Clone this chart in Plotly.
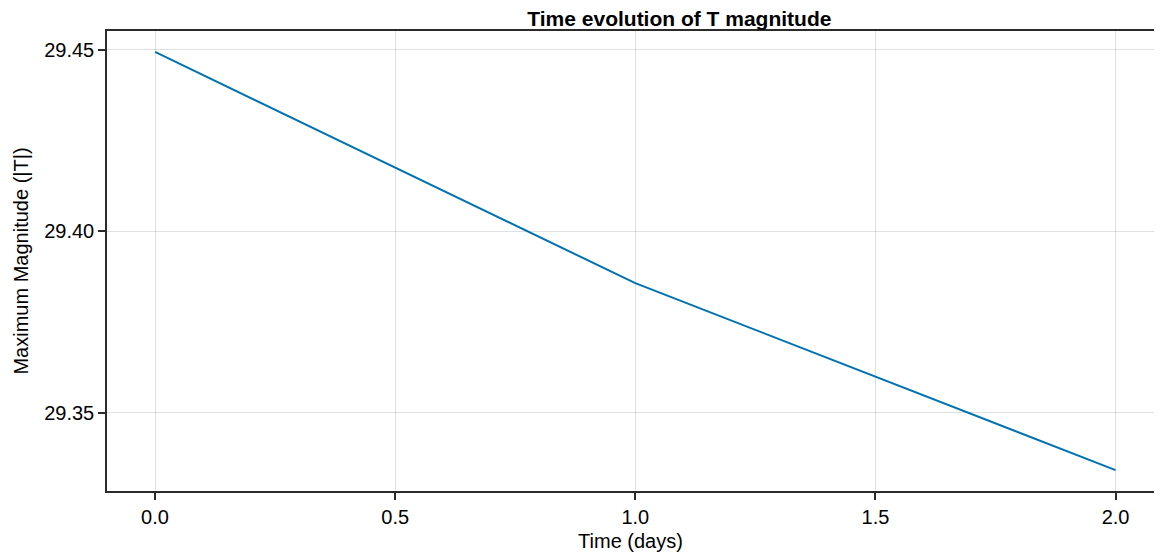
import plotly.graph_objects as go

# time in days and maximum |T| magnitude
time_days = [0.0, 1.0, 2.0]
max_magnitude = [29.4494, 29.3857, 29.3342]

x_ticks = [0.0, 0.5, 1.0, 1.5, 2.0]
x_tick_text = ["0.0", "0.5", "1.0", "1.5", "2.0"]
y_ticks = [29.35, 29.40, 29.45]
y_tick_text = ["29.35", "29.40", "29.45"]

font_family = "Liberation Sans, Arial, Helvetica, sans-serif"
spine = "#2b2b2b"
grid = "rgba(0,0,0,0.12)"

# the page body adds an 8px margin, so the figure is sized to fit inside it
W, H = 1146, 544
ML, MR, MT, MB = 99, 0, 23, 61

fig = go.Figure()
fig.add_trace(go.Scatter(x=time_days, y=max_magnitude, mode="lines",
                         line=dict(color="rgb(0,114,178)", width=2), showlegend=False))

ypad = (max(max_magnitude) - min(max_magnitude)) * 0.05
axis_style = dict(
    showgrid=True, gridcolor=grid, gridwidth=1,
    showline=True, linecolor=spine, linewidth=1.5,
    ticks="outside", ticklen=7, tickwidth=1.5, tickcolor=spine,
    zeroline=False, automargin=False,
    tickfont=dict(size=20, color="black"),
)
fig.update_layout(
    width=W, height=H,
    margin=dict(l=ML, r=MR, t=MT, b=MB),
    paper_bgcolor="white", plot_bgcolor="white",
    font=dict(family=font_family, size=20, color="black"),
    title=dict(text="<b>Time evolution of T magnitude</b>",
               x=(ML + W + 8) / 2 / W, xanchor="center", xref="paper",
               y=1 - 3 / H, yanchor="top", pad=dict(t=0), font=dict(size=21)),
    xaxis=dict(
        range=[-0.1, 2.08], tickvals=x_ticks, ticktext=x_tick_text, mirror=True,
        title=dict(text="Time (days)", standoff=14, font=dict(size=20)),
        **axis_style,
    ),
    yaxis=dict(
        range=[min(max_magnitude) - ypad, max(max_magnitude) + ypad],
        tickvals=y_ticks, ticktext=y_tick_text, mirror=False,
        title=dict(text="Maximum Magnitude (|T|)", standoff=10, font=dict(size=20)),
        **axis_style,
    ),
)

fig.write_html("out.html")
